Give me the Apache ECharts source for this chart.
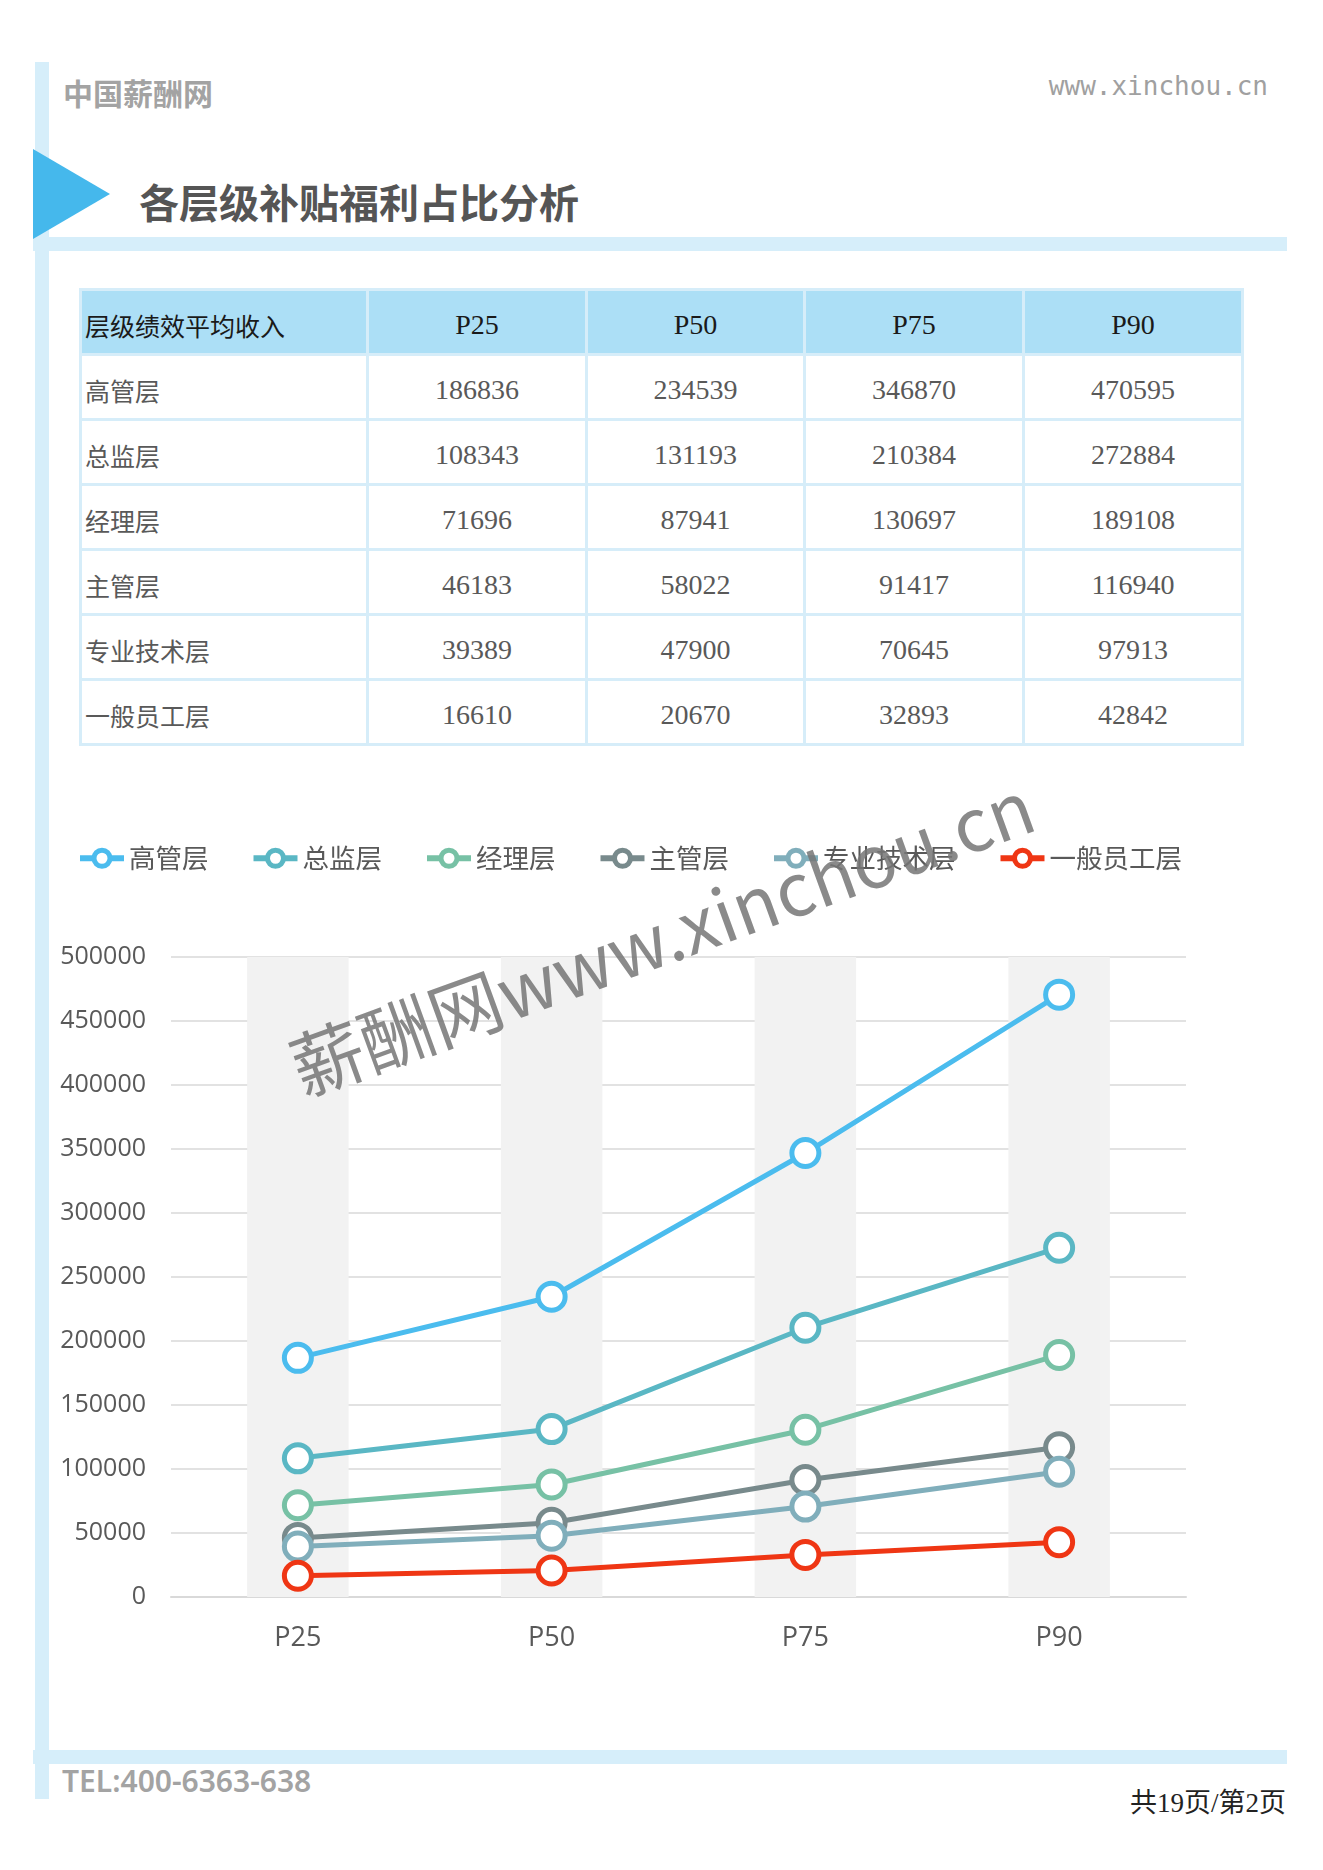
<!DOCTYPE html>
<html>
<head>
<meta charset="utf-8">
<script src="https://cdn.jsdelivr.net/npm/echarts@6/dist/echarts.min.js"></script>
<style>
  html, body { margin: 0; padding: 0; background: #fff; }
  body { width: 1323px; height: 1870px; position: relative; overflow: hidden; font-family: "Noto Sans CJK SC", "Noto Sans", sans-serif; }
  .abs { position: absolute; }
  #vbar { left: 35px; top: 62px; width: 14px; height: 1737px; background: #d6eefa; }
  #topband { left: 33px; top: 237px; width: 1254px; height: 14px; background: #d6eefa; }
  #botband { left: 33px; top: 1750px; width: 1254px; height: 14px; background: #d6eefa; }
  #tri { left: 33px; top: 149px; width: 0; height: 0; border-top: 45px solid transparent; border-bottom: 45px solid transparent; border-left: 77px solid #45b8ec; }
  #brand { left: 63px; top: 73px; font-size: 30px; font-weight: 700; color: #a3a3a3; line-height: 38px; }
  #site { right: 55px; top: 70px; font-family: "DejaVu Sans Mono", monospace; font-size: 26px; color: #a0a0a0; line-height: 32px; }
  #title { left: 139px; top: 175px; font-size: 40px; font-weight: 700; color: #555; line-height: 52px; letter-spacing: 0px; }
  #tel { left: 62px; top: 1763px; font-family: "Noto Sans", sans-serif; font-size: 30px; font-weight: 600; color: #a3a3a3; line-height: 36px; }
  #pageno { right: 37px; top: 1786px; font-family: "Liberation Serif", "Noto Sans CJK SC", serif; font-size: 27px; color: #222; line-height: 34px; }
  #tbl { left: 79px; top: 288px; border-collapse: collapse; table-layout: fixed; width: 1162px; font-family: "Liberation Serif", "Noto Sans CJK SC", serif; font-size: 28px; }
  #tbl tr { height: 65px; }
  #tbl td { border: 3px solid #d6edf9; padding: 6px 0 0 0; text-align: center; color: #595959; vertical-align: middle; }
  #tbl tr.hd td { background: #acdff6; color: #1a1a1a; }
  #tbl td.first { text-align: left; padding-left: 3px; font-size: 25px; }
  #chart { left: 0; top: 780px; width: 1323px; height: 900px; }
</style>
</head>
<body>
<div id="vbar" class="abs"></div>
<div id="topband" class="abs"></div>
<div id="botband" class="abs"></div>
<div id="tri" class="abs"></div>
<div id="brand" class="abs">中国薪酬网</div>
<div id="site" class="abs">www.xinchou.cn</div>
<div id="title" class="abs">各层级补贴福利占比分析</div>
<table id="tbl" class="abs"></table>
<div id="chart" class="abs"></div>
<div id="tel" class="abs">TEL:400-6363-638</div>
<div id="pageno" class="abs">共19页/第2页</div>
<script>
// ---- data ----
const tableHeader = "层级绩效平均收入";
const categories = ["P25", "P50", "P75", "P90"];
const levels = ["高管层", "总监层", "经理层", "主管层", "专业技术层", "一般员工层"];
const gaoguan = [186836, 234539, 346870, 470595];
const zongjian = [108343, 131193, 210384, 272884];
const jingli = [71696, 87941, 130697, 189108];
const zhuguan = [46183, 58022, 91417, 116940];
const zhuanye = [39389, 47900, 70645, 97913];
const yiban = [16610, 20670, 32893, 42842];
const shadeTop = [500000, 500000, 500000, 500000];
const yTicks = { min: 0, max: 500000, interval: 50000 };
const colors = ["#4bbcee", "#5ab7c4", "#77c1a5", "#788a8c", "#80aebb", "#ef3614"];

const seriesValues = [gaoguan, zongjian, jingli, zhuguan, zhuanye, yiban];

// ---- table ----
const tbl = document.getElementById('tbl');
const colW = [287, 219, 218, 219, 219];
let html = '<colgroup>' + colW.map(w => '<col style="width:' + w + 'px">').join('') + '</colgroup>';
html += '<tr class="hd"><td class="first">' + tableHeader + '</td>' + categories.map(c => '<td>' + c + '</td>').join('') + '</tr>';
levels.forEach((lv, i) => {
  html += '<tr><td class="first">' + lv + '</td>' + seriesValues[i].map(v => '<td>' + v + '</td>').join('') + '</tr>';
});
tbl.innerHTML = html;

// ---- chart ----
const chart = echarts.init(document.getElementById('chart'), null, { renderer: 'canvas' });
const lineSeries = levels.map((name, i) => ({
  name: name,
  type: 'line',
  data: seriesValues[i],
  color: colors[i],
  symbol: 'circle',
  symbolSize: 27,
  lineStyle: { width: 5, color: colors[i] },
  itemStyle: { color: '#ffffff', borderColor: colors[i], borderWidth: 5 },
  z: 3 + i,
  emphasis: { disabled: true }
}));

chart.setOption({
  animation: false,
  legend: {
    data: levels,
    left: 77,
    top: 65,
    padding: 0,
    itemWidth: 44,
    itemHeight: 20,
    itemGap: 42,
    lineStyle: { width: 6 },
    itemStyle: { borderWidth: 5 },
    textStyle: { fontSize: 26.5, color: '#595959', fontFamily: 'Noto Sans CJK SC' }
  },
  grid: { left: 171, top: 177, width: 1015, height: 640, containLabel: false },
  xAxis: {
    type: 'category',
    data: categories,
    boundaryGap: true,
    axisLine: { show: true, lineStyle: { color: '#d9d9d9', width: 2 } },
    axisTick: { show: false },
    axisLabel: { fontSize: 27, color: '#595959', margin: 28, fontFamily: 'Open Sans' },
    splitLine: { show: false }
  },
  yAxis: {
    type: 'value',
    min: yTicks.min,
    max: yTicks.max,
    interval: yTicks.interval,
    axisLine: { show: false },
    axisTick: { show: false },
    axisLabel: { fontSize: 25, color: '#595959', margin: 25, fontFamily: 'Open Sans', formatter: v => String(v) },
    splitLine: { lineStyle: { color: '#d9d9d9', width: 1.5 } }
  },
  series: [{
    name: 'shade',
    type: 'bar',
    data: shadeTop,
    barWidth: '40%',
    silent: true,
    itemStyle: { color: '#f2f2f2' },
    z: 1,
    emphasis: { disabled: true }
  }].concat(lineSeries),
  graphic: [{
    type: 'text',
    x: 662,
    y: 157,
    rotation: 20 * Math.PI / 180,
    z: 100,
    silent: true,
    style: {
      text: '薪酬网www.xinchou.cn',
      fontSize: 73,
      fontFamily: 'Noto Sans CJK SC',
      fill: 'rgba(118,118,118,0.85)',
      align: 'center',
      verticalAlign: 'middle'
    }
  }]
});
</script>
</body>
</html>
